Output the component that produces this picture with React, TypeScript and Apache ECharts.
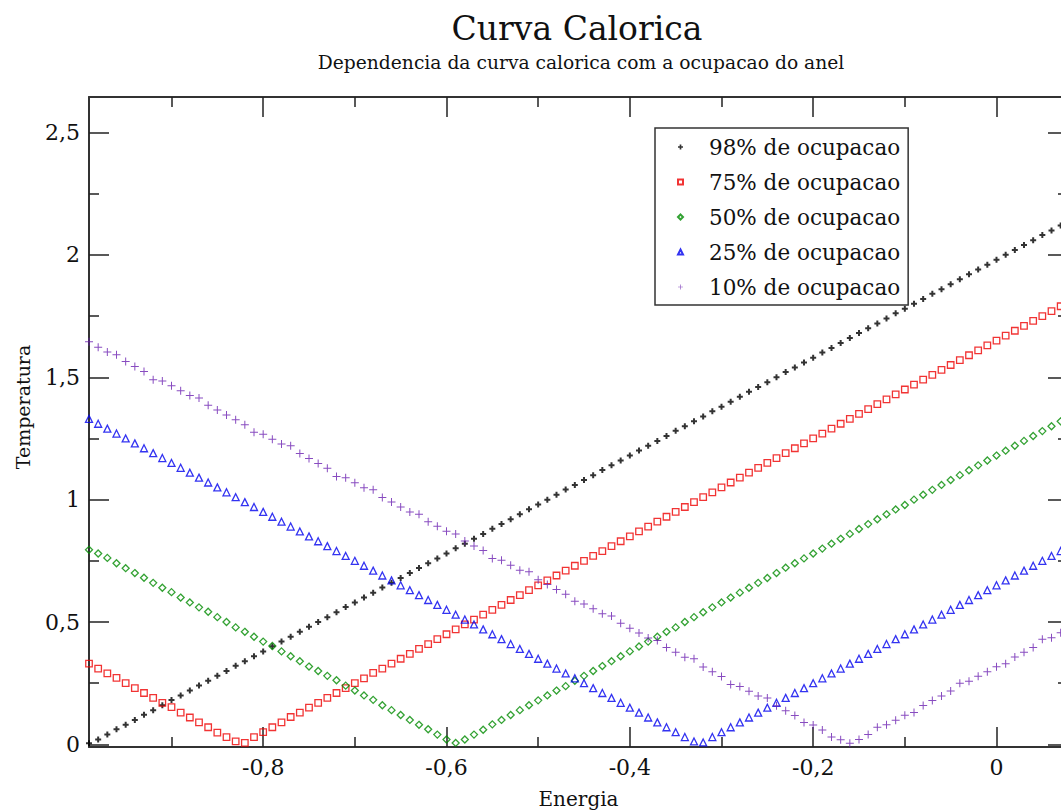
import React, { useEffect, useRef } from 'react';
import * as echarts from 'echarts';

const energia = [
  -0.99, -0.98, -0.97, -0.96, -0.95, -0.94, -0.93, -0.92, -0.91, -0.9,
  -0.89, -0.88, -0.87, -0.86, -0.85, -0.84, -0.83, -0.82, -0.81, -0.8,
  -0.79, -0.78, -0.77, -0.76, -0.75, -0.74, -0.73, -0.72, -0.71, -0.7,
  -0.69, -0.68, -0.67, -0.66, -0.65, -0.64, -0.63, -0.62, -0.61, -0.6,
  -0.59, -0.58, -0.57, -0.56, -0.55, -0.54, -0.53, -0.52, -0.51, -0.5,
  -0.49, -0.48, -0.47, -0.46, -0.45, -0.44, -0.43, -0.42, -0.41, -0.4,
  -0.39, -0.38, -0.37, -0.36, -0.35, -0.34, -0.33, -0.32, -0.31, -0.3,
  -0.29, -0.28, -0.27, -0.26, -0.25, -0.24, -0.23, -0.22, -0.21, -0.2,
  -0.19, -0.18, -0.17, -0.16, -0.15, -0.14, -0.13, -0.12, -0.11, -0.1,
  -0.09, -0.08, -0.07, -0.06, -0.05, -0.04, -0.03, -0.02, -0.01, 0,
  0.01, 0.02, 0.03, 0.04, 0.05, 0.06, 0.07,
];

// 98% de ocupacao
const t98 = [
  0.005, 0.02, 0.04, 0.062, 0.08, 0.1, 0.121, 0.14, 0.16, 0.181,
  0.2, 0.22, 0.241, 0.26, 0.28, 0.3, 0.321, 0.34, 0.36, 0.38,
  0.401, 0.42, 0.44, 0.46, 0.481, 0.5, 0.52, 0.54, 0.561, 0.58,
  0.6, 0.62, 0.641, 0.66, 0.68, 0.7, 0.721, 0.74, 0.76, 0.78,
  0.801, 0.82, 0.84, 0.86, 0.881, 0.9, 0.92, 0.94, 0.961, 0.98,
  1.0, 1.02, 1.041, 1.06, 1.08, 1.1, 1.121, 1.14, 1.16, 1.18,
  1.201, 1.22, 1.24, 1.26, 1.281, 1.3, 1.32, 1.34, 1.361, 1.38,
  1.4, 1.42, 1.441, 1.46, 1.48, 1.5, 1.521, 1.54, 1.56, 1.58,
  1.601, 1.62, 1.64, 1.66, 1.681, 1.7, 1.72, 1.74, 1.761, 1.78,
  1.8, 1.82, 1.841, 1.86, 1.88, 1.9, 1.921, 1.94, 1.96, 1.98,
  2.001, 2.02, 2.04, 2.06, 2.081, 2.1, 2.12,
];

// 75% de ocupacao
const t75 = [
  0.33, 0.31, 0.29, 0.272, 0.25, 0.23, 0.21, 0.19, 0.17, 0.152,
  0.13, 0.11, 0.09, 0.07, 0.048, 0.03, 0.012, 0.006, 0.03, 0.05,
  0.07, 0.09, 0.112, 0.13, 0.15, 0.17, 0.19, 0.21, 0.23, 0.25,
  0.27, 0.292, 0.31, 0.33, 0.35, 0.37, 0.39, 0.41, 0.43, 0.45,
  0.47, 0.49, 0.51, 0.53, 0.55, 0.57, 0.59, 0.61, 0.63, 0.65,
  0.67, 0.69, 0.71, 0.73, 0.75, 0.77, 0.79, 0.81, 0.83, 0.85,
  0.87, 0.89, 0.91, 0.93, 0.95, 0.97, 0.99, 1.01, 1.03, 1.05,
  1.07, 1.09, 1.11, 1.13, 1.15, 1.17, 1.19, 1.21, 1.23, 1.25,
  1.27, 1.29, 1.31, 1.33, 1.35, 1.37, 1.39, 1.41, 1.43, 1.45,
  1.47, 1.49, 1.51, 1.53, 1.55, 1.57, 1.59, 1.61, 1.63, 1.65,
  1.67, 1.69, 1.71, 1.73, 1.75, 1.77, 1.79,
];

// 50% de ocupacao
const t50 = [
  0.795, 0.78, 0.762, 0.74, 0.72, 0.7, 0.681, 0.66, 0.64, 0.622,
  0.6, 0.58, 0.56, 0.542, 0.52, 0.5, 0.478, 0.46, 0.44, 0.42,
  0.402, 0.38, 0.36, 0.34, 0.318, 0.3, 0.28, 0.262, 0.24, 0.22,
  0.2, 0.182, 0.16, 0.14, 0.12, 0.1, 0.08, 0.062, 0.04, 0.02,
  0.006, 0.02, 0.04, 0.06, 0.082, 0.1, 0.12, 0.14, 0.16, 0.18,
  0.2, 0.22, 0.238, 0.26, 0.28, 0.3, 0.32, 0.34, 0.36, 0.38,
  0.4, 0.42, 0.44, 0.46, 0.478, 0.5, 0.52, 0.54, 0.56, 0.58,
  0.6, 0.62, 0.64, 0.66, 0.68, 0.7, 0.722, 0.74, 0.76, 0.78,
  0.8, 0.82, 0.84, 0.86, 0.88, 0.9, 0.92, 0.94, 0.96, 0.978,
  1.0, 1.02, 1.04, 1.06, 1.08, 1.1, 1.12, 1.14, 1.16, 1.18,
  1.2, 1.22, 1.24, 1.26, 1.28, 1.3, 1.32,
];

// 25% de ocupacao
const t25 = [
  1.33, 1.31, 1.29, 1.27, 1.25, 1.23, 1.21, 1.19, 1.17, 1.15,
  1.13, 1.11, 1.09, 1.07, 1.05, 1.03, 1.01, 0.99, 0.97, 0.95,
  0.93, 0.91, 0.89, 0.87, 0.85, 0.83, 0.81, 0.79, 0.77, 0.75,
  0.73, 0.71, 0.69, 0.67, 0.65, 0.63, 0.61, 0.59, 0.57, 0.55,
  0.53, 0.51, 0.49, 0.47, 0.45, 0.43, 0.41, 0.39, 0.37, 0.35,
  0.33, 0.31, 0.29, 0.27, 0.25, 0.23, 0.21, 0.19, 0.17, 0.15,
  0.13, 0.11, 0.09, 0.07, 0.05, 0.03, 0.012, 0.008, 0.03, 0.05,
  0.07, 0.09, 0.11, 0.13, 0.15, 0.17, 0.19, 0.21, 0.23, 0.25,
  0.27, 0.29, 0.31, 0.33, 0.35, 0.37, 0.39, 0.41, 0.43, 0.45,
  0.47, 0.49, 0.51, 0.53, 0.55, 0.57, 0.59, 0.61, 0.63, 0.65,
  0.67, 0.69, 0.71, 0.73, 0.75, 0.77, 0.79,
];

// 10% de ocupacao
const t10 = [
  1.645, 1.623, 1.603, 1.592, 1.564, 1.544, 1.524, 1.49, 1.485, 1.465,
  1.445, 1.425, 1.415, 1.386, 1.366, 1.346, 1.326, 1.306, 1.275, 1.267,
  1.247, 1.227, 1.22, 1.188, 1.168, 1.148, 1.128, 1.095, 1.089, 1.069,
  1.049, 1.04, 1.009, 0.99, 0.97, 0.95, 0.94, 0.91, 0.891, 0.871,
  0.86, 0.831, 0.811, 0.792, 0.76, 0.752, 0.732, 0.712, 0.705, 0.673,
  0.653, 0.633, 0.613, 0.585, 0.574, 0.554, 0.534, 0.525, 0.495, 0.475,
  0.455, 0.435, 0.425, 0.396, 0.376, 0.356, 0.35, 0.316, 0.297, 0.277,
  0.245, 0.237, 0.217, 0.198, 0.19, 0.158, 0.138, 0.118, 0.09, 0.079,
  0.059, 0.03, 0.019, 0.005, 0.02, 0.04, 0.07, 0.08, 0.099, 0.119,
  0.13, 0.159, 0.179, 0.198, 0.218, 0.25, 0.258, 0.278, 0.297, 0.317,
  0.33, 0.357, 0.377, 0.396, 0.43, 0.436, 0.456,
];

const seriesNames = [
  '98% de ocupacao',
  '75% de ocupacao',
  '50% de ocupacao',
  '25% de ocupacao',
  '10% de ocupacao',
];

const xMajor = [-0.8, -0.6, -0.4, -0.2, 0];
const xMinor = [-0.9, -0.7, -0.5, -0.3, -0.1];
const yMajor = [0, 0.5, 1, 1.5, 2, 2.5];
const yMinor = [0.25, 0.75, 1.25, 1.75, 2.25];

const FONT = 'DejaVu Serif';
const PLUS_BIG = 'path://M3.5,0H4.5V3.5H8V4.5H4.5V8H3.5V4.5H0V3.5H3.5Z';
const PLUS_SMALL = 'path://M2,0H4V2H6V4H4V6H2V4H0V2H2Z';

export default function App() {
  const ref = useRef<HTMLDivElement>(null);

  useEffect(() => {
    if (!ref.current) return;
    const chart = echarts.init(ref.current, null, { renderer: 'svg' });

    const X_MIN = -0.99;
    const X_MAX = 0.078;
    const Y_MIN = -0.0106;
    const Y_MAX = 2.645;
    const fmt = (v: number) => String(Math.round(v * 100) / 100).replace('.', ',');
    const lineStyle = { color: '#333', width: 2 };
    const tickStyle = { color: '#222', width: 1.5 };
    const labelStyle = { fontFamily: FONT, fontSize: 22, color: '#111' };

    const mkX = (position: string, ticks: number[], len: number, showLine: boolean, labels: boolean, extra: any = {}) => ({
      type: 'value',
      position,
      min: X_MIN,
      max: X_MAX,
      axisLine: { show: showLine, onZero: false, lineStyle },
      axisTick: { show: true, inside: true, length: len, customValues: ticks, lineStyle: tickStyle },
      axisLabel: labels
        ? { show: true, customValues: ticks, formatter: fmt, margin: 9, ...labelStyle }
        : { show: false },
      splitLine: { show: false },
      ...extra,
    });
    const mkY = (position: string, ticks: number[], len: number, showLine: boolean, labels: boolean, extra: any = {}) => ({
      type: 'value',
      position,
      min: Y_MIN,
      max: Y_MAX,
      axisLine: { show: showLine, onZero: false, lineStyle },
      axisTick: { show: true, inside: true, length: len, customValues: ticks, lineStyle: tickStyle },
      axisLabel: labels
        ? { show: true, customValues: ticks, formatter: fmt, margin: 9, ...labelStyle }
        : { show: false },
      splitLine: { show: false },
      ...extra,
    });

    const mkSeries = (name: string, arr: number[], symbol: string, size: number, color: string, hollow: boolean) => ({
      type: 'scatter',
      name,
      xAxisIndex: 0,
      yAxisIndex: 0,
      symbol,
      symbolSize: size,
      data: energia.map((e, i) => [e, arr[i]]),
      itemStyle: hollow
        ? { color: 'rgba(255,255,255,0)', borderColor: color, borderWidth: 1.3 }
        : { color, borderWidth: 0 },
      emphasis: { disabled: true },
      silent: true,
    });

    chart.setOption({
      animation: false,
      backgroundColor: '#ffffff',
      title: [
        {
          text: 'Curva Calorica',
          left: 577,
          top: 12,
          padding: 0,
          textAlign: 'center',
          textStyle: { fontFamily: FONT, fontSize: 33, fontWeight: 'normal', color: '#111' },
        },
        {
          text: 'Dependencia da curva calorica com a ocupacao do anel',
          left: 581,
          top: 53,
          padding: 0,
          textAlign: 'center',
          textStyle: { fontFamily: FONT, fontSize: 18.7, fontWeight: 'normal', color: '#111' },
        },
      ],
      grid: { left: 89, right: -7, top: 97, bottom: 65, containLabel: false, outerBoundsMode: 'none' },
      legend: {
        orient: 'vertical',
        left: 655,
        top: 128,
        padding: [8, 8, 7, 22],
        itemGap: 13,
        itemWidth: 5,
        itemHeight: 5,
        borderColor: '#333',
        borderWidth: 1.5,
        backgroundColor: '#ffffff',
        selectedMode: false,
        textStyle: { fontFamily: FONT, fontSize: 21.5, color: '#111', lineHeight: 21, padding: [0, 0, 0, 21] },
        data: seriesNames,
      },
      xAxis: [
        mkX('bottom', xMajor, 20, true, true, {
          name: 'Energia',
          nameLocation: 'middle',
          nameGap: 42,
          nameTextStyle: { fontFamily: FONT, fontSize: 20, color: '#111' },
        }),
        mkX('bottom', xMinor, 10, false, false),
        mkX('top', xMajor, 20, true, false),
        mkX('top', xMinor, 10, false, false),
      ],
      yAxis: [
        mkY('left', yMajor, 20, true, true, {
          name: 'Temperatura',
          nameLocation: 'middle',
          nameGap: 57,
          nameTextStyle: { fontFamily: FONT, fontSize: 19, color: '#111', padding: [0, 0, 0, 30] },
        }),
        mkY('left', yMinor, 10, false, false),
        mkY('right', yMajor, 20, true, false),
        mkY('right', yMinor, 10, false, false),
      ],
      series: [
        mkSeries(seriesNames[0], t98, PLUS_SMALL, 6, '#000000', false),
        mkSeries(seriesNames[1], t75, 'rect', 6.5, '#ee0000', true),
        mkSeries(seriesNames[2], t50, 'diamond', 7, '#008b00', true),
        mkSeries(seriesNames[3], t25, 'triangle', 7, '#0000ee', true),
        mkSeries(seriesNames[4], t10, PLUS_BIG, 8, '#6a1fb0', false),
      ],
    });

    return () => chart.dispose();
  }, []);

  return (
    <div
      ref={ref}
      style={{ position: 'fixed', left: 0, top: 0, width: 1061, height: 812, background: '#fff' }}
    />
  );
}
